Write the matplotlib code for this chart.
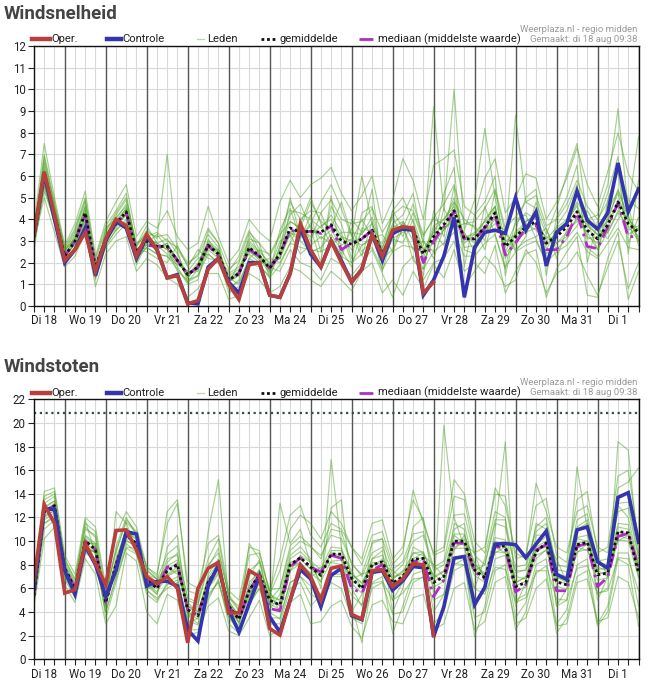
import matplotlib
matplotlib.use('Agg')
from matplotlib import pyplot as plt
from matplotlib.lines import Line2D

plt.rcParams['font.family'] = ['Roboto', 'DejaVu Sans']

W, H = 654, 687

# 60 time steps of 6 hours, Di 18 06:00 .. Wo 2 00:00
day_labels = ['Di 18', 'Wo 19', 'Do 20', 'Vr 21', 'Za 22', 'Zo 23', 'Ma 24', 'Di 25',
              'Wo 26', 'Do 27', 'Vr 28', 'Za 29', 'Zo 30', 'Ma 31', 'Di 1']

# ---- Windsnelheid (m/s)
oper_snel = [3.3, 6.2, 4.2, 2.1, 2.6, 3.4, 1.6, 3.1, 4.0, 3.7,
             2.3, 3.3, 2.6, 1.3, 1.4, 0.1, 0.25, 1.7, 2.2, 1.0,
             0.3, 1.9, 2.0, 0.5, 0.4, 1.5, 3.8, 2.6, 1.8, 3.0,
             2.0, 1.1, 1.7, 3.3, 2.3, 3.5, 3.65, 3.6, 0.6, 1.1]
contr_snel = [3.3, 6.1, 4.0, 2.0, 2.6, 3.6, 1.4, 3.0, 3.9, 3.6,
              2.2, 3.2, 2.6, 1.3, 1.45, 0.15, 0.1, 1.8, 2.2, 1.1,
              0.6, 2.0, 2.0, 0.5, 0.4, 1.5, 3.6, 2.4, 1.8, 3.0,
              2.1, 1.1, 1.7, 3.3, 2.1, 3.4, 3.55, 3.5, 0.5, 1.2,
              2.3, 4.1, 0.4, 2.7, 3.4, 3.5, 3.35, 5.0, 3.5, 4.35,
              1.85, 3.4, 3.8, 5.3, 3.95, 3.55, 4.3, 6.6, 4.35, 5.4]
gem_snel = [3.2, 6.0, 4.2, 2.3, 3.0, 4.3, 1.8, 3.1, 3.8, 4.35,
            2.5, 3.0, 2.75, 2.75, 2.1, 1.45, 1.8, 2.8, 2.4, 1.2,
            1.5, 2.7, 2.3, 1.75, 2.4, 3.6, 3.4, 3.45, 3.4, 3.75,
            3.0, 2.85, 3.1, 3.5, 2.4, 3.35, 3.65, 3.5, 2.4, 3.2,
            3.75, 4.4, 3.1, 3.1, 3.65, 4.3, 2.75, 3.2, 3.65, 3.9,
            2.9, 3.2, 3.65, 4.35, 3.5, 3.1, 3.75, 4.8, 3.8, 3.4]
med_snel = [3.2, 6.0, 4.2, 2.3, 3.0, 4.2, 1.8, 3.1, 3.8, 4.3,
            2.5, 2.8, 2.75, 2.75, 2.1, 1.45, 1.8, 2.8, 2.3, 1.2,
            1.5, 2.6, 2.3, 1.75, 2.4, 3.5, 3.4, 3.45, 3.35, 3.7,
            2.6, 2.9, 3.1, 3.5, 2.4, 3.3, 3.6, 3.5, 2.0, 3.0,
            3.65, 4.35, 3.1, 3.1, 3.6, 4.2, 2.35, 2.9, 3.6, 3.75,
            2.6, 2.6, 3.2, 4.3, 2.75, 2.65, 3.65, 4.75, 3.2, 3.2]
leden_snel = [
    [3.8, 7.5, 5.0, 2.8, 3.8, 5.3, 2.3, 3.9, 4.8, 5.6, 3.2, 3.9, 3.6, 4.4, 3.2, 2.6, 2.9, 4.6, 3.2, 2.0,
     2.6, 4.0, 3.4, 3.0, 4.8, 5.8, 5.0, 5.6, 5.9, 6.4, 5.2, 4.4, 5.1, 6.0, 3.8, 4.9, 6.8, 5.8, 4.0, 6.5,
     6.8, 7.2, 4.6, 4.2, 5.9, 6.8, 4.3, 5.0, 6.1, 5.9, 4.0, 4.8, 5.9, 7.3, 5.6, 4.6, 6.2, 8.0, 6.1, 5.3],
    [3.0, 5.0, 3.4, 1.8, 2.3, 3.4, 0.9, 2.4, 3.0, 3.2, 1.6, 2.2, 1.9, 1.3, 1.0, 0.4, 0.8, 1.5, 1.5, 0.3,
     0.5, 1.5, 1.2, 0.6, 0.9, 1.8, 1.6, 1.2, 0.9, 1.6, 1.2, 0.7, 1.6, 2.0, 0.6, 1.2, 0.5, 1.6, 0.8, 1.9,
     1.3, 2.6, 0.9, 1.6, 2.3, 1.8, 0.9, 1.2, 2.6, 2.0, 0.6, 1.5, 1.8, 2.5, 1.4, 0.5, 1.8, 3.0, 0.8, 2.0],
    [3.3, 6.6, 4.5, 2.5, 3.4, 4.8, 1.5, 3.4, 4.2, 4.9, 2.7, 3.5, 3.1, 7.0, 2.5, 1.1, 1.7, 3.5, 2.9, 0.8,
     1.2, 3.3, 2.4, 1.6, 3.5, 4.5, 3.1, 4.2, 2.5, 4.6, 3.8, 2.2, 4.3, 4.6, 2.2, 2.6, 3.9, 3.0, 1.4, 4.4,
     3.2, 5.5, 2.6, 2.4, 4.6, 3.3, 1.7, 4.0, 4.2, 3.1, 2.0, 3.7, 4.4, 5.6, 2.7, 2.3, 4.9, 6.2, 2.9, 4.1],
    [2.6, 5.6, 3.9, 2.0, 2.7, 4.0, 2.0, 2.8, 3.5, 4.0, 2.2, 2.7, 2.4, 2.3, 1.9, 1.6, 2.2, 2.4, 2.0, 1.5,
     1.8, 2.4, 2.0, 2.2, 2.0, 2.9, 3.9, 3.0, 4.3, 3.1, 2.4, 3.6, 2.5, 3.0, 2.9, 4.1, 3.2, 4.3, 3.0, 2.5,
     4.5, 3.6, 3.8, 3.7, 3.0, 5.3, 3.4, 2.5, 3.2, 4.8, 3.5, 2.6, 3.1, 3.7, 4.4, 3.6, 3.1, 4.0, 4.6, 2.8],
    [3.5, 6.9, 4.6, 2.6, 3.1, 4.6, 1.2, 3.6, 4.0, 4.7, 2.9, 3.2, 3.4, 3.0, 2.7, 2.0, 2.3, 3.3, 2.7, 1.0,
     2.0, 3.1, 2.9, 1.3, 2.8, 4.2, 4.7, 3.6, 2.0, 5.1, 2.1, 4.0, 3.4, 5.4, 1.8, 4.4, 5.0, 3.9, 2.1, 3.0,
     5.2, 6.4, 1.8, 4.2, 4.8, 6.0, 1.4, 3.5, 5.0, 5.4, 1.4, 4.1, 5.0, 6.5, 2.0, 3.9, 5.2, 6.9, 2.4, 5.8],
    [2.9, 5.3, 4.0, 2.2, 3.3, 4.4, 1.6, 3.0, 3.6, 4.3, 2.0, 3.1, 2.9, 2.6, 1.6, 1.2, 1.4, 2.6, 2.2, 1.3,
     1.0, 2.2, 2.6, 1.9, 2.2, 3.3, 2.4, 2.8, 3.2, 2.9, 3.4, 2.0, 2.8, 3.1, 3.3, 2.5, 3.6, 2.6, 3.0, 2.2,
     3.6, 3.9, 3.4, 2.5, 3.4, 3.8, 3.5, 2.6, 3.0, 3.2, 3.6, 2.2, 3.5, 3.9, 3.9, 2.6, 3.4, 4.3, 3.7, 3.0],
    [3.1, 6.2, 4.4, 2.4, 2.8, 4.1, 1.9, 3.3, 3.9, 4.5, 2.6, 3.0, 2.6, 2.8, 2.2, 1.3, 1.9, 2.9, 2.5, 1.2,
     1.4, 2.8, 2.2, 1.5, 2.6, 5.0, 3.2, 3.8, 4.8, 5.6, 4.5, 3.2, 6.0, 3.8, 2.7, 3.8, 4.2, 5.2, 2.8, 9.2,
     4.4, 10.0, 3.5, 4.9, 8.2, 5.0, 3.0, 8.8, 4.8, 4.5, 3.3, 4.5, 6.1, 7.5, 4.0, 4.2, 5.6, 9.1, 4.4, 7.8],
    [3.2, 5.8, 4.1, 2.3, 3.0, 4.2, 1.7, 3.1, 3.8, 4.2, 2.4, 3.3, 2.8, 2.4, 2.0, 1.5, 1.6, 2.7, 2.6, 1.1,
     1.6, 2.6, 2.1, 1.8, 1.6, 2.6, 2.0, 1.8, 1.2, 2.2, 1.9, 1.4, 2.0, 2.6, 1.5, 0.4, 1.8, 2.3, 1.2, 2.0,
     2.2, 3.0, 1.6, 2.0, 1.5, 2.8, 0.6, 1.6, 2.4, 2.6, 0.4, 1.7, 2.5, 3.2, 0.5, 0.4, 2.2, 3.4, 0.3, 1.6],
    [3.4, 7.0, 4.8, 2.7, 3.6, 5.0, 2.2, 3.7, 4.4, 5.2, 2.6, 2.5, 2.2, 2.0, 2.8, 1.8, 2.6, 2.2, 2.1, 1.6,
     2.3, 3.5, 2.6, 2.4, 3.3, 3.9, 3.6, 4.8, 3.9, 3.6, 4.8, 3.3, 2.3, 3.9, 2.0, 3.1, 2.9, 4.0, 2.6, 3.4,
     2.8, 4.8, 4.0, 3.6, 2.6, 4.4, 2.4, 3.0, 3.9, 4.2, 2.8, 3.4, 3.9, 4.6, 3.1, 3.2, 4.4, 5.3, 4.2, 3.0],
    [2.8, 5.5, 3.8, 2.1, 2.6, 3.8, 1.3, 2.7, 3.3, 3.8, 1.9, 2.9, 3.3, 2.7, 1.8, 1.0, 1.2, 3.1, 2.3, 0.6,
     0.9, 2.0, 1.8, 1.4, 2.4, 3.4, 3.0, 2.5, 2.7, 3.3, 2.6, 1.8, 3.6, 3.4, 1.6, 3.3, 3.8, 2.1, 1.7, 3.6,
     3.5, 4.2, 2.7, 2.8, 4.0, 4.6, 2.2, 2.9, 3.6, 3.8, 2.4, 2.9, 3.2, 4.1, 3.4, 2.6, 4.0, 4.6, 3.3, 3.6],
    [3.6, 6.4, 4.3, 2.5, 3.2, 4.6, 1.9, 3.2, 4.1, 4.6, 2.8, 3.7, 2.9, 3.1, 2.4, 1.4, 2.0, 3.0, 2.6, 1.4,
     1.7, 3.0, 2.5, 2.0, 2.2, 4.4, 4.3, 4.0, 3.6, 4.2, 3.4, 3.4, 3.3, 4.1, 2.5, 3.7, 3.6, 3.5, 2.4, 3.7,
     4.0, 4.6, 3.1, 3.4, 3.9, 4.1, 3.0, 3.3, 3.8, 3.5, 3.0, 3.3, 3.8, 4.4, 3.7, 3.3, 3.5, 4.9, 3.9, 3.2],
    [3.0, 6.1, 4.2, 2.2, 2.9, 4.3, 1.8, 3.0, 3.7, 4.4, 2.5, 2.8, 2.7, 2.9, 2.1, 1.5, 1.7, 2.8, 2.4, 1.2,
     1.5, 2.7, 2.3, 1.7, 3.0, 3.2, 3.8, 5.0, 3.8, 2.8, 3.2, 3.0, 4.0, 3.2, 2.6, 4.4, 3.6, 4.7, 3.3, 4.0,
     3.8, 5.0, 3.2, 3.3, 3.4, 4.6, 2.7, 3.8, 4.3, 4.0, 3.1, 3.6, 4.0, 4.8, 4.1, 3.5, 3.9, 5.4, 4.0, 3.5],
    [3.3, 6.3, 4.4, 2.4, 3.1, 4.5, 1.7, 3.2, 3.9, 4.5, 2.6, 3.1, 2.9, 2.6, 2.2, 1.3, 1.9, 2.9, 2.5, 1.1,
     1.4, 2.9, 2.4, 1.6, 2.7, 3.9, 3.6, 3.2, 3.7, 4.0, 3.2, 2.6, 3.4, 3.8, 2.2, 3.6, 3.9, 3.3, 2.2, 3.5,
     4.0, 4.8, 2.9, 3.3, 3.9, 4.6, 2.5, 3.4, 3.9, 4.2, 2.6, 3.5, 3.9, 4.7, 3.2, 2.9, 4.1, 5.2, 3.5, 3.7],
    [3.1, 5.7, 4.0, 2.2, 2.9, 4.1, 1.9, 3.0, 3.7, 4.2, 2.4, 2.9, 2.6, 2.9, 2.0, 1.6, 1.7, 2.7, 2.3, 1.3,
     1.6, 2.5, 2.2, 1.9, 2.2, 3.4, 3.2, 3.7, 3.1, 3.5, 2.8, 3.1, 2.8, 3.2, 2.6, 3.1, 3.4, 3.7, 2.6, 2.9,
     3.5, 4.1, 3.3, 2.9, 3.4, 4.0, 3.0, 3.0, 3.4, 3.6, 3.2, 2.9, 3.4, 4.0, 3.8, 3.3, 3.4, 4.4, 4.1, 3.1],
    [3.4, 6.7, 4.7, 2.6, 3.5, 4.9, 2.1, 3.5, 4.3, 5.0, 2.8, 3.4, 3.2, 3.3, 2.6, 1.9, 2.4, 3.6, 2.9, 1.7,
     2.1, 3.4, 2.9, 2.3, 3.2, 4.8, 4.0, 4.4, 4.3, 4.9, 4.0, 3.8, 3.9, 4.5, 3.4, 4.2, 4.6, 4.4, 3.2, 4.1,
     4.7, 5.6, 3.8, 3.9, 4.5, 5.4, 3.6, 4.1, 4.8, 5.1, 3.7, 4.0, 4.7, 5.8, 4.6, 4.0, 4.8, 6.4, 4.9, 4.5],
    [2.9, 5.6, 3.9, 2.0, 2.7, 3.9, 1.5, 2.8, 3.5, 3.9, 2.2, 2.7, 2.4, 2.3, 1.7, 1.1, 1.4, 2.4, 2.0, 0.9,
     1.1, 2.2, 1.9, 1.3, 1.9, 2.9, 2.7, 2.6, 2.5, 2.8, 2.3, 2.0, 2.4, 2.7, 1.7, 2.5, 2.8, 2.7, 1.7, 2.5,
     2.9, 3.4, 2.3, 2.3, 2.9, 3.3, 1.8, 2.5, 2.8, 3.0, 2.0, 2.5, 2.8, 3.4, 2.5, 2.2, 2.9, 3.6, 2.7, 2.6],
]

# ---- Windstoten (m/s)
oper_stoot = [6.7, 13.1, 11.5, 5.6, 5.9, 9.8, 8.1, 6.3, 10.9, 10.95,
              9.25, 7.0, 6.4, 7.0, 6.0, 1.4, 6.0, 7.7, 8.2, 3.9,
              3.95, 7.5, 7.0, 2.6, 2.05, 5.0, 8.0, 7.0, 5.0, 7.7,
              7.9, 3.8, 3.4, 7.5, 7.6, 6.15, 6.8, 8.1, 8.0, 2.0]
contr_stoot = [6.0, 12.7, 12.7, 7.5, 5.5, 9.6, 8.0, 5.3, 7.5, 10.8,
               10.6, 6.2, 6.6, 6.6, 6.2, 2.5, 1.55, 6.2, 8.0, 4.2,
               2.3, 4.7, 7.0, 3.6, 2.3, 5.0, 7.6, 6.8, 4.45, 7.1,
               7.7, 3.7, 3.35, 7.35, 7.5, 5.85, 6.65, 7.85, 7.75, 1.9,
               4.45, 8.55, 8.7, 4.6, 6.1, 9.75, 9.8, 9.7, 8.6, 9.75,
               10.85, 7.2, 6.75, 10.95, 11.2, 8.25, 7.7, 13.7, 14.1, 9.9]
gem_stoot = [5.4, 12.5, 13.0, 7.7, 6.0, 10.0, 9.3, 4.8, 8.0, 10.5,
             9.8, 6.8, 6.0, 7.5, 8.0, 4.2, 3.7, 6.5, 7.8, 4.5,
             3.4, 5.8, 7.2, 5.0, 4.6, 8.0, 8.6, 7.8, 7.1, 8.9,
             8.9, 6.85, 6.0, 8.0, 8.25, 6.45, 7.0, 8.45, 8.55, 6.5,
             7.0, 10.0, 10.0, 7.55, 6.9, 9.7, 9.55, 6.15, 6.5, 9.1,
             9.85, 6.55, 6.3, 9.7, 9.9, 7.15, 7.3, 10.8, 10.7, 7.35]
med_stoot = [5.4, 12.5, 13.0, 7.7, 6.0, 10.0, 9.3, 4.8, 8.0, 10.5,
             9.8, 6.8, 6.0, 7.8, 8.0, 4.2, 3.7, 6.5, 7.8, 4.5,
             3.4, 5.8, 7.2, 4.3, 4.1, 7.8, 8.6, 7.8, 7.4, 8.8,
             8.55, 6.0, 5.6, 7.55, 8.0, 6.15, 6.8, 8.25, 8.4, 5.3,
             6.7, 9.85, 9.8, 7.4, 6.8, 9.55, 9.4, 5.7, 6.3, 9.25,
             9.7, 5.8, 5.8, 9.55, 9.8, 6.15, 6.95, 10.4, 10.65, 7.85]
leden_stoot = [
    [6.8, 14.2, 14.5, 8.8, 7.2, 12.0, 11.2, 6.2, 10.5, 12.5, 11.2, 7.8, 7.2, 11.5, 13.2, 6.5, 6.0, 9.8, 10.5, 5.8,
     5.0, 9.5, 9.2, 5.5, 7.5, 11.0, 12.2, 11.5, 10.2, 12.5, 11.5, 9.5, 8.5, 11.5, 11.8, 8.5, 9.5, 13.5, 11.8, 8.8,
     9.2, 13.8, 13.5, 9.0, 9.5, 14.0, 13.8, 8.5, 8.8, 13.0, 13.6, 8.8, 8.2, 13.5, 14.2, 9.0, 9.5, 15.5, 16.0, 10.2],
    [4.5, 10.2, 11.2, 6.3, 4.8, 8.5, 7.2, 3.0, 4.5, 9.0, 8.3, 4.0, 3.0, 5.5, 5.0, 2.0, 2.3, 4.5, 5.2, 2.4,
     2.0, 3.5, 5.0, 2.0, 2.5, 4.8, 5.5, 3.0, 3.2, 4.5, 5.0, 2.8, 1.8, 4.6, 5.0, 3.2, 3.0, 5.2, 5.5, 2.5,
     3.0, 6.0, 6.5, 2.5, 3.2, 6.5, 7.0, 3.0, 3.5, 6.0, 6.8, 2.8, 3.0, 6.5, 6.8, 3.2, 3.5, 7.0, 6.5, 3.5],
    [5.8, 13.2, 13.8, 7.5, 6.3, 11.0, 10.5, 4.2, 12.5, 11.5, 9.5, 6.2, 5.5, 9.5, 10.5, 3.5, 4.5, 10.8, 15.2, 4.8,
     3.0, 9.8, 8.5, 4.5, 13.2, 9.8, 11.0, 8.0, 6.5, 12.8, 13.5, 6.0, 4.5, 10.0, 10.2, 5.0, 6.5, 11.2, 12.0, 5.5,
     19.8, 12.0, 9.5, 6.0, 8.5, 12.5, 12.0, 4.5, 6.5, 11.5, 11.0, 4.5, 6.0, 16.3, 11.0, 5.0, 7.0, 13.0, 12.0, 8.0],
    [5.0, 12.0, 12.6, 7.8, 5.8, 9.5, 9.0, 5.0, 7.5, 10.2, 10.0, 7.0, 6.5, 7.0, 7.5, 4.5, 4.2, 6.0, 7.2, 4.8,
     3.8, 5.5, 6.8, 5.2, 4.5, 7.8, 8.2, 7.0, 7.5, 8.8, 8.5, 6.8, 7.2, 7.5, 8.0, 6.8, 7.5, 8.0, 8.5, 7.2,
     6.5, 9.2, 10.5, 8.2, 7.0, 9.0, 9.5, 6.5, 7.0, 9.2, 9.5, 7.0, 6.5, 9.0, 9.8, 7.5, 7.0, 10.5, 10.2, 7.8],
    [5.6, 12.8, 13.4, 7.2, 5.5, 10.5, 9.8, 4.5, 8.5, 11.0, 10.2, 6.5, 5.5, 8.2, 9.0, 3.8, 3.0, 7.2, 8.5, 3.8,
     2.8, 6.5, 7.5, 4.2, 5.5, 8.8, 9.5, 8.5, 6.0, 16.9, 9.5, 4.0, 5.5, 8.5, 9.2, 4.0, 6.0, 9.5, 9.0, 4.0,
     5.5, 11.5, 11.0, 5.0, 5.8, 11.0, 18.4, 5.0, 5.5, 10.5, 10.5, 4.5, 5.0, 11.0, 11.5, 5.5, 6.0, 18.4, 17.7, 9.0],
    [6.2, 12.2, 12.8, 8.2, 6.5, 10.2, 9.5, 5.5, 8.2, 10.8, 9.2, 7.2, 6.8, 7.8, 7.2, 4.8, 4.0, 6.8, 7.5, 5.0,
     3.5, 6.0, 7.0, 5.5, 5.0, 8.2, 8.0, 7.2, 7.8, 8.2, 8.0, 7.2, 6.5, 7.8, 8.5, 7.0, 7.2, 8.5, 9.0, 7.0,
     7.5, 9.5, 9.8, 7.8, 7.2, 9.5, 9.0, 7.0, 6.8, 8.8, 9.2, 7.2, 7.0, 9.5, 9.2, 7.8, 7.5, 10.0, 10.5, 8.2],
    [5.2, 11.5, 12.2, 7.0, 5.8, 9.2, 8.5, 4.0, 7.0, 9.8, 9.0, 5.5, 4.8, 6.5, 7.0, 3.0, 3.5, 5.5, 6.5, 3.5,
     2.5, 4.8, 6.0, 3.5, 3.5, 6.5, 7.0, 5.5, 5.0, 6.5, 6.0, 3.5, 3.0, 6.0, 6.5, 3.8, 4.0, 6.5, 7.0, 3.0,
     4.0, 7.5, 8.0, 3.5, 4.0, 7.5, 8.0, 2.5, 4.0, 7.5, 7.5, 2.2, 3.5, 7.0, 7.5, 2.8, 4.0, 8.5, 8.0, 2.8],
    [6.5, 13.8, 14.2, 8.5, 6.8, 11.5, 10.8, 5.8, 9.0, 11.8, 10.8, 6.0, 6.2, 8.5, 8.8, 5.2, 4.8, 8.0, 9.0, 5.5,
     4.2, 7.5, 8.2, 5.0, 6.0, 9.2, 10.0, 9.5, 8.8, 10.5, 10.2, 8.2, 7.0, 9.0, 9.5, 7.2, 8.0, 10.0, 10.5, 7.5,
     8.0, 11.0, 11.5, 7.5, 8.0, 11.5, 11.2, 7.8, 8.0, 10.8, 11.5, 8.0, 7.8, 11.2, 11.8, 8.2, 8.0, 12.5, 12.8, 8.5],
    [4.8, 11.0, 11.8, 7.5, 6.0, 9.8, 9.8, 4.8, 7.8, 10.0, 9.6, 7.5, 6.8, 7.2, 7.8, 4.5, 3.8, 6.2, 8.0, 4.2,
     3.2, 5.2, 7.5, 5.8, 4.0, 7.5, 8.8, 8.2, 7.0, 9.2, 9.2, 7.5, 6.0, 8.2, 8.0, 7.5, 6.8, 9.0, 8.8, 8.0,
     7.0, 10.5, 9.8, 9.0, 6.5, 10.0, 9.5, 7.5, 7.5, 9.5, 10.0, 8.5, 6.5, 10.2, 10.0, 8.8, 7.0, 11.2, 11.0, 7.0],
    [5.5, 12.6, 13.2, 7.8, 6.2, 10.0, 9.0, 4.6, 8.0, 10.4, 9.7, 6.8, 6.0, 7.5, 8.2, 4.0, 3.6, 6.6, 7.8, 4.4,
     3.4, 5.8, 7.2, 4.8, 4.6, 8.2, 8.5, 7.6, 7.2, 9.0, 8.8, 6.6, 6.2, 8.0, 8.2, 6.4, 7.0, 8.4, 8.6, 6.6,
     7.0, 10.0, 10.2, 7.6, 7.0, 9.8, 9.6, 6.2, 6.6, 9.2, 9.8, 6.6, 6.4, 9.8, 10.0, 7.2, 7.4, 10.8, 10.6, 7.4],
    [6.0, 12.4, 13.0, 8.0, 6.4, 11.8, 8.8, 5.2, 9.5, 12.0, 10.5, 7.8, 7.0, 12.5, 13.5, 5.8, 5.5, 8.5, 10.2, 5.2,
     4.5, 8.8, 9.0, 5.8, 8.5, 12.2, 13.0, 10.5, 9.5, 11.5, 11.0, 9.5, 8.0, 10.5, 10.8, 8.0, 9.0, 14.3, 11.5, 9.0,
     9.5, 15.2, 14.0, 10.0, 9.0, 14.5, 13.0, 9.0, 8.5, 14.9, 12.5, 9.5, 9.0, 12.5, 13.0, 9.5, 9.0, 14.5, 15.0, 16.2],
    [5.3, 11.8, 12.4, 6.8, 5.2, 9.0, 9.2, 3.5, 6.5, 9.5, 9.4, 5.8, 5.2, 6.0, 6.5, 2.5, 2.5, 5.0, 6.8, 3.0,
     2.2, 4.5, 6.5, 3.0, 3.0, 6.0, 6.5, 4.5, 5.5, 7.0, 7.0, 4.5, 1.4, 6.5, 7.0, 2.2, 4.5, 7.2, 7.5, 2.0,
     4.5, 8.0, 8.5, 1.9, 4.5, 8.5, 8.8, 3.5, 4.8, 8.0, 8.5, 3.0, 4.2, 8.0, 8.5, 3.0, 4.5, 9.0, 9.0, 4.5],
    [5.6, 12.9, 13.4, 8.0, 6.2, 10.4, 9.6, 5.0, 8.4, 10.9, 10.1, 7.1, 6.3, 7.9, 8.4, 4.5, 4.0, 6.9, 8.2, 4.8,
     3.7, 6.2, 7.6, 5.3, 5.0, 8.5, 9.1, 8.3, 7.6, 9.5, 9.4, 7.2, 6.4, 8.5, 8.8, 6.8, 7.4, 9.0, 9.1, 6.9,
     7.4, 10.6, 10.6, 8.0, 7.3, 10.3, 10.1, 6.5, 6.9, 9.7, 10.4, 6.9, 6.7, 10.3, 10.5, 7.6, 7.7, 11.5, 11.4, 7.8],
    [5.2, 12.1, 12.6, 7.4, 5.8, 9.6, 9.0, 4.6, 7.6, 10.1, 9.5, 6.5, 5.7, 7.1, 7.6, 3.9, 3.4, 6.1, 7.4, 4.2,
     3.1, 5.4, 6.8, 4.7, 4.2, 7.5, 8.1, 7.3, 6.6, 8.3, 8.4, 6.4, 5.6, 7.5, 7.7, 6.0, 6.6, 7.9, 8.0, 6.1,
     6.6, 9.4, 9.4, 7.1, 6.5, 9.1, 9.0, 5.8, 6.1, 8.5, 9.3, 6.2, 5.9, 9.1, 9.3, 6.7, 6.9, 10.1, 10.0, 6.9],
    [6.0, 13.5, 14.0, 8.4, 6.7, 11.2, 10.3, 5.5, 9.2, 11.6, 10.7, 7.6, 6.8, 8.9, 9.6, 5.0, 4.6, 7.8, 9.4, 5.3,
     4.1, 7.0, 8.4, 5.9, 6.0, 9.6, 10.4, 9.6, 8.5, 11.0, 10.8, 8.0, 7.2, 9.8, 10.2, 7.6, 8.3, 10.6, 10.8, 7.8,
     8.3, 12.2, 12.3, 8.8, 8.0, 11.8, 11.8, 7.3, 7.6, 11.2, 12.0, 7.6, 7.4, 11.8, 12.3, 8.3, 8.5, 13.2, 13.3, 8.8],
    [4.9, 11.5, 12.0, 7.0, 5.4, 9.0, 8.4, 4.0, 6.8, 9.4, 8.9, 5.9, 5.0, 6.3, 6.7, 3.3, 2.9, 5.3, 6.6, 3.6,
     2.6, 4.6, 6.0, 4.0, 3.4, 6.5, 7.0, 6.2, 5.5, 7.2, 7.2, 5.4, 4.6, 6.4, 6.6, 5.0, 5.6, 6.8, 6.9, 5.0,
     5.5, 8.1, 8.0, 6.0, 5.5, 7.8, 7.6, 4.8, 5.2, 7.3, 7.9, 5.1, 5.0, 7.7, 7.9, 5.6, 5.8, 8.6, 8.5, 5.8],
]
grens_stoot = 20.83

RED = '#b8403c'
BLUE = '#3434ae'
GREEN = '#4ea424'
PURPLE = '#b02ec6'
GRID = '#d9d9d9'
DAY = '#555555'

fig = plt.figure(figsize=(W / 100, H / 100), dpi=100)


def fx(x):
    return x / W


def fy(y):
    return 1 - y / H


def chart(top, title, oper, contr, gem, med, leden, ymax, ystep, grens=None):
    ax = fig.add_axes([fx(34), fy(top + 260), 604.5 / W, 260 / H])
    n = len(contr)
    t = list(range(n))
    # grid
    for i in t:
        if (i - 3) % 4 == 0:
            ax.axvline(i, color=DAY, lw=1.0, zorder=1)
        else:
            ax.axvline(i, color=GRID, lw=0.8, zorder=0)
    for v in range(0, ymax + 1, ystep):
        ax.axhline(v, color=GRID, lw=0.8, zorder=0)
    if grens is not None:
        ax.axhline(grens, color='#2f4f4f', lw=1.6, ls=(0, (1, 1.6)), zorder=2)
    for m in leden:
        ax.plot(t, m, color=GREEN, lw=0.85, alpha=0.5, zorder=3)
    ax.plot(t, med, color=PURPLE, lw=2.0, ls=(0, (5, 2, 1, 2)), zorder=4)
    ax.plot(t, gem, color='#111111', lw=2.0, ls=(0, (1, 1)), zorder=5)
    ax.plot(t, contr, color=BLUE, lw=2.6, zorder=6, solid_joinstyle='miter')
    ax.plot(range(len(oper)), oper, color=RED, lw=2.6, zorder=7, solid_joinstyle='miter')
    ax.set_xlim(0, n - 1)
    ax.set_ylim(0, ymax)
    labels = [''] * n
    for k, d in enumerate(day_labels):
        labels[1 + 4 * k] = d
    ax.set_xticks(t)
    ax.set_xticklabels(labels, fontsize=8.3, color='#222222')
    ax.set_yticks(range(0, ymax + 1, ystep))
    ax.tick_params(axis='both', length=4, width=0.8, color='#222222', labelsize=8.3,
                   labelcolor='#222222', pad=2)
    for s in ax.spines.values():
        s.set_color('#111111')
        s.set_linewidth(1.0)
        s.set_zorder(8)

    # title + legend + source text
    fig.text(fx(4), fy(top - 32), title, fontsize=13.5, fontweight='bold', color='#444444',
             va='center', ha='left')
    ly = fy(top - 6.8)
    items = [(31.7, 50, RED, 3.2, '-', 'Oper.', 51.7),
             (107, 120.7, BLUE, 3.2, '-', 'Controle', 122.3),
             (196.7, 204, '#b9d8a8', 0.9, '-', 'Leden', 206.7),
             (261, 276.7, '#111111', 2.0, (0, (1, 1)), 'gemiddelde', 280),
             (359.3, 374, PURPLE, 2.0, (0, (5, 2, 1, 2)), 'mediaan (middelste waarde)', 378.3)]
    for x0, x1, c, lw, ls, txt, xt in items:
        fig.add_artist(Line2D([fx(x0), fx(x1)], [ly, ly], color=c, lw=lw, ls=ls))
        fig.text(fx(xt), ly, txt, fontsize=8.1, color='#222222', va='center', ha='left')
    fig.text(fx(637.5), fy(top - 16.6), 'Weerplaza.nl - regio midden', fontsize=6.8,
             color='#9a9a9a', va='center', ha='right')
    fig.text(fx(637.5), fy(top - 6.6), 'Gemaakt: di 18 aug 09:38', fontsize=6.8,
             color='#9a9a9a', va='center', ha='right')
    return ax


chart(46, 'Windsnelheid', oper_snel, contr_snel, gem_snel, med_snel, leden_snel, 12, 1)
chart(399.3, 'Windstoten', oper_stoot, contr_stoot, gem_stoot, med_stoot, leden_stoot, 22, 2,
      grens=grens_stoot)

fig.savefig('out.png', dpi=100)
